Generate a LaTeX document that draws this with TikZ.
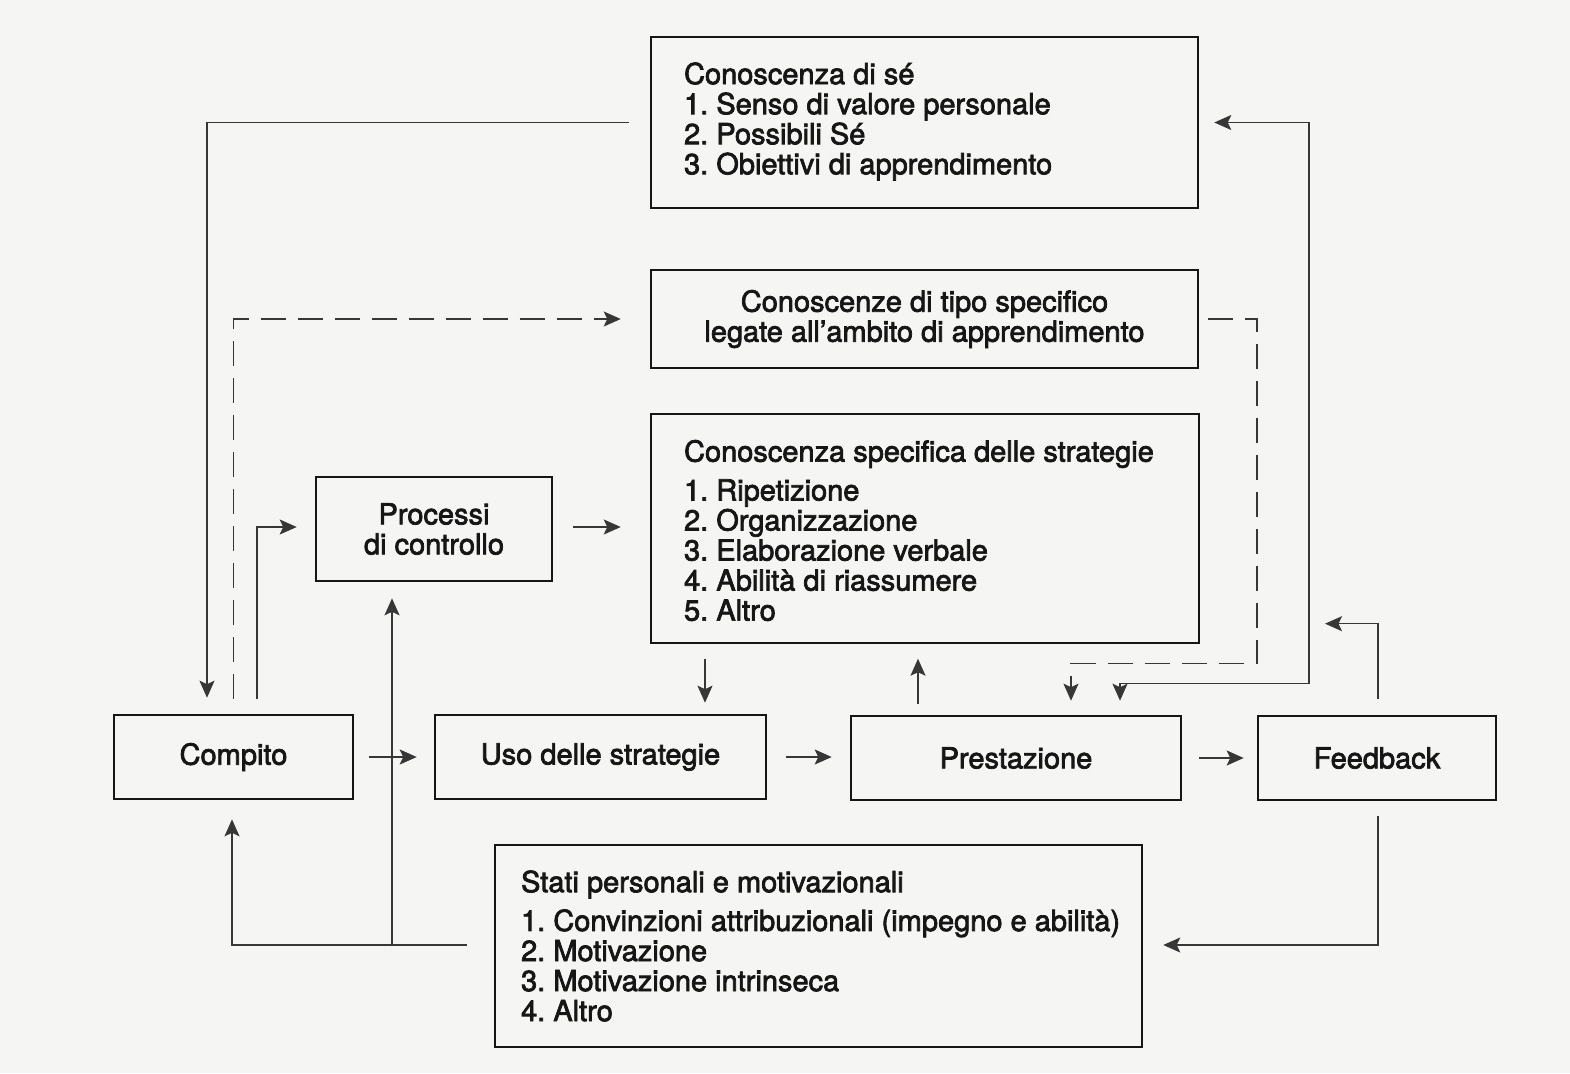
\documentclass[tikz,border=0pt]{standalone}
\usepackage{fontspec}
\setmainfont{TeX Gyre Heros}
\newfontfamily\labelfont{TeX Gyre Heros}[FakeBold=2.5]
\usetikzlibrary{arrows.meta,calc}
\definecolor{paper}{RGB}{245,245,244}
\definecolor{ink}{RGB}{22,22,22}
\definecolor{wire}{RGB}{55,55,55}
\frenchspacing
\begin{document}
\begin{tikzpicture}[x=0.02cm,y=-0.02cm,
  box/.style={draw=ink, line width=1.5pt, inner sep=0pt},
  txt/.style={text=ink, font=\labelfont\fontsize{16.5}{17.1}\selectfont, align=left, inner sep=0pt},
  ctxt/.style={text=ink, font=\labelfont\fontsize{16.5}{17.1}\selectfont, align=center},
  arr/.style={draw=wire, line width=0.9pt, -{Stealth[length=0.34cm,width=0.3cm,inset=0.07cm]}},
  arrboth/.style={draw=wire, line width=0.9pt, {Stealth[length=0.34cm,width=0.3cm,inset=0.07cm]}-{Stealth[length=0.34cm,width=0.3cm,inset=0.07cm]}},
  dsh/.style={dash pattern=on 0.5cm off 0.24cm}]
\fill[paper] (0,0) rectangle (1570,1073);
\useasboundingbox (0,0) rectangle (1570,1073);

% --- boxes ---
\node[box, minimum width=10.94cm, minimum height=3.42cm] (se) at (924.5,122.5) {};
\node[txt, anchor=west] (se-t) at ($(se.west)+(34,-1)$)
  {Conoscenza di sé\\1. Senso di valore personale\\2. Possibili Sé\\3. Obiettivi di apprendimento};

\node[box, ctxt, minimum width=10.94cm, minimum height=1.96cm] (tipo) at (924.5,319)
  {Conoscenze di tipo specifico\\legate all’ambito di apprendimento};

\node[box, minimum width=10.96cm, minimum height=4.58cm] (strat) at (925,528.5) {};
\node[txt, anchor=west] (strat-t) at ($(strat.west)+(34,2)$)
  {Conoscenza specifica delle strategie\\[5pt]1. Ripetizione\\2. Organizzazione\\3. Elaborazione verbale\\4. Abilità di riassumere\\5. Altro};

\node[box, ctxt, minimum width=4.72cm, minimum height=2.08cm] (proc) at (434,529)
  {Processi\\di controllo};

\node[box, ctxt, minimum width=4.78cm, minimum height=1.68cm] (compito) at (233.5,757) {Compito};
\node[box, ctxt, minimum width=6.62cm, minimum height=1.68cm] (uso) at (600.5,757) {Uso delle strategie};
\node[box, ctxt, minimum width=6.60cm, minimum height=1.68cm] (prest) at (1016,758) {Prestazione};
\node[box, ctxt, minimum width=4.76cm, minimum height=1.68cm] (feed) at (1377,758) {Feedback};

\node[box, minimum width=12.94cm, minimum height=4.04cm] (stati) at (818.5,946) {};
\node[txt, anchor=west] (stati-t) at ($(stati.west)+(27,0)$)
  {Stati personali e motivazionali\\[5pt]1. Convinzioni attribuzionali (impegno e abilità)\\2. Motivazione\\3. Motivazione intrinseca\\4. Altro};

% --- connectors ---
% self-knowledge down to the task
\draw[arr] ($(se.west)+(-21,0)$) -| ($(compito.north)+(-26.5,-16)$);
% task to domain knowledge (dashed)
\draw[arr, dsh] ($(compito.north)+(0,-15)$) |- ($(tipo.west)+(-29,0)$);
% task to control processes
\draw[arr] ($(compito.north)+(23.5,-15)$) |- ($(proc.west)+(-18,-2)$);
% control processes to strategy knowledge
\draw[arr] ($(proc.east)+(20,-2)$) -- ($(proc.east -| strat.west)+(-29,-2)$);
% strategy knowledge to strategy use
\draw[arr] ($(uso.north)+(104.5,-55)$) -- ($(uso.north)+(104.5,-11)$);
% main row
\draw[arr] ($(compito.east)+(15,0)$) -- ($(uso.west)+(-17,0)$);
\draw[arr] ($(uso.east)+(19,0)$) -- ($(uso.east -| prest.west)+(-18,0)$);
\draw[arr] ($(prest.east)+(17,0)$) -- ($(feed.west)+(-13,0)$);
% performance back up to strategy knowledge
\draw[arr] ($(prest.north)+(-98,-11)$) -- ($(prest.north)+(-98,-56)$);
% domain knowledge to performance (dashed)
\draw[arr, dsh] ($(tipo.east)+(9,0)$) -| ($(strat.south east)+(57,19)$) -| ($(prest.north)+(55,-14)$);
% self-knowledge <-> performance
\draw[arrboth] ($(se.east)+(15,0)$) -| ($(feed.north west)+(52,-31)$) -| ($(prest.north)+(104,-14)$);
% feedback up into the loop
\draw[arr] ($(feed.north)+(1,-16)$) |- ($(feed.north)+(-52,-91)$);
% feedback to personal states
\draw[arr] ($(feed.south)+(1,15)$) |- ($(stati.east)+(20,-1)$);
% personal states to task and control processes
\draw[arr] ($(stati.west)+(-27,-1)$) -| ($(compito.south)+(-1.5,19)$);
\draw[arr] ($(proc.south)+(-42,364)$) -- ($(proc.south)+(-42,16)$);
\end{tikzpicture}
\end{document}
